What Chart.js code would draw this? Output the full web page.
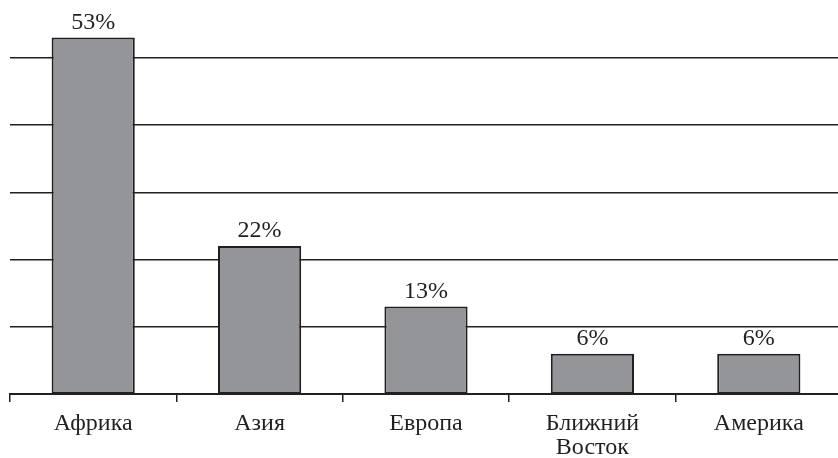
<!DOCTYPE html>
<html>
<head>
<meta charset="utf-8">
<script src="https://cdn.jsdelivr.net/npm/chart.js@4/dist/chart.umd.min.js"></script>
<style>
    html, body { margin: 0; padding: 0; background: #fff; overflow: hidden; }
    #wrap { width: 842px; height: 458px; }
</style>
</head>
<body>
<div id="wrap"><canvas id="chart" width="842" height="458"></canvas></div>
<script>
// 지역 / 값
const regions = ['Африка', 'Азия', 'Европа', ['Ближний', 'Восток'], 'Америка'];
const shares = [53, 22, 13, 6, 6];
const gridValues = [10, 20, 30, 40, 50];

const ink = '#231f20';
const barFill = '#939598';
const fontFamily = '"Liberation Serif", "Times New Roman", serif';

// 막대 위 퍼센트 표시
const valueLabels = {
    id: 'valueLabels',
    afterDatasetsDraw(chart) {
        const ctx = chart.ctx;
        const meta = chart.getDatasetMeta(0);
        ctx.save();
        ctx.font = '24px ' + fontFamily;
        ctx.fillStyle = ink;
        ctx.textAlign = 'center';
        ctx.textBaseline = 'bottom';
        meta.data.forEach((bar, i) => {
            ctx.fillText(shares[i] + '%', bar.x, bar.y - 3);
        });
        ctx.restore();
    }
};

new Chart(document.getElementById('chart'), {
    type: 'bar',
    data: {
        labels: regions,
        datasets: [{
            data: shares,
            backgroundColor: barFill,
            borderColor: ink,
            borderWidth: 2,
            borderSkipped: false,
            categoryPercentage: 1,
            barPercentage: 0.5
        }]
    },
    options: {
        responsive: false,
        animation: false,
        layout: { padding: { left: 10, top: 4, right: 0, bottom: 0 } },
        plugins: {
            legend: { display: false },
            tooltip: { enabled: false }
        },
        scales: {
            x: {
                offset: true,
                border: { display: true, color: ink, width: 2 },
                grid: {
                    offset: true,
                    drawOnChartArea: false,
                    drawTicks: true,
                    tickLength: 8,
                    color: ink,
                    lineWidth: 1.5
                },
                ticks: {
                    color: ink,
                    padding: 10,
                    font: { family: fontFamily, size: 24, lineHeight: 1.0 }
                },
                afterFit(scale) { scale.height = 64; }
            },
            y: {
                min: 0,
                max: 58,
                border: { display: false },
                grid: {
                    drawTicks: false,
                    tickLength: 0,
                    color: ink,
                    lineWidth: 1.4
                },
                ticks: { display: false },
                afterBuildTicks(scale) {
                    scale.ticks = gridValues.map(v => ({ value: v }));
                },
                afterFit(scale) { scale.width = 0; }
            }
        }
    },
    plugins: [valueLabels]
});
</script>
</body>
</html>
